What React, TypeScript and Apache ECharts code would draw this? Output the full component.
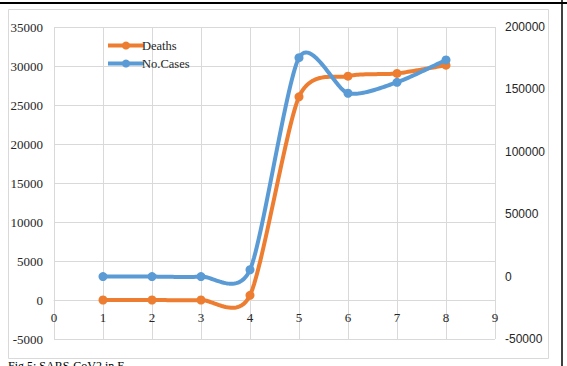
import React, { useEffect, useRef } from "react";
import * as echarts from "echarts";

const xValues = [1, 2, 3, 4, 5, 6, 7, 8];
const deaths = [0, 0, 0, 600, 26050, 28700, 29050, 30100];
const cases = [0, 0, 0, 5500, 175400, 146900, 155700, 173600];
const seriesNames = ["Deaths", "No.Cases"];
const colors = ["#ED7D31", "#5B9BD5"];
const caption = "Fig 5: SARS-CoV2 in E";

// Excel-like smoothed curve (cardinal spline) sampled in pixel space
function smoothPoints(pts: number[][], k: number): number[][] {
  const out: number[][] = [];
  const n = pts.length;
  for (let i = 0; i < n - 1; i++) {
    const p0 = pts[Math.max(0, i - 1)];
    const p1 = pts[i];
    const p2 = pts[i + 1];
    const p3 = pts[Math.min(n - 1, i + 2)];
    const c1 = [p1[0] + (p2[0] - p0[0]) * k, p1[1] + (p2[1] - p0[1]) * k];
    const c2 = [p2[0] - (p3[0] - p1[0]) * k, p2[1] - (p3[1] - p1[1]) * k];
    const steps = 30;
    for (let s = 0; s <= steps; s++) {
      if (i > 0 && s === 0) continue;
      const t = s / steps;
      const a = (1 - t) * (1 - t) * (1 - t);
      const b = 3 * (1 - t) * (1 - t) * t;
      const c = 3 * (1 - t) * t * t;
      const d = t * t * t;
      out.push([
        a * p1[0] + b * c1[0] + c * c2[0] + d * p2[0],
        a * p1[1] + b * c1[1] + c * c2[1] + d * p2[1],
      ]);
    }
  }
  return out;
}

function curveSeries(values: number[], yAxisIndex: number, color: string, z: number) {
  return {
    type: "custom",
    coordinateSystem: "cartesian2d",
    xAxisIndex: 0,
    yAxisIndex,
    z,
    silent: true,
    data: xValues.map((x, i) => [x, values[i]]),
    encode: { x: 0, y: 1 },
    renderItem: (params: any, api: any) => {
      if (params.dataIndex !== 0) return null;
      const pts = xValues.map((x, i) => api.coord([x, values[i]]));
      return {
        type: "polyline",
        shape: { points: smoothPoints(pts, 1 / 8) },
        style: { stroke: color, lineWidth: 4, fill: "none", lineJoin: "round", lineCap: "round" },
      };
    },
  };
}

export default function App() {
  const ref = useRef<HTMLDivElement>(null);
  useEffect(() => {
    document.body.style.margin = "0";
    const chart = echarts.init(ref.current!, null, { renderer: "svg" });
    const grid = "#d9d9d9";
    const plain = (v: number) => String(v);
    chart.setOption({
      animation: false,
      backgroundColor: "#ffffff",
      grid: { left: 54, right: 72, top: 27, bottom: 27, containLabel: false },
      legend: {
        orient: "vertical",
        left: 101,
        top: 34,
        itemWidth: 36,
        itemHeight: 10,
        itemGap: 5,
        data: seriesNames.map((name, i) => ({
          name,
          lineStyle: { width: 4, opacity: 1, color: colors[i] },
          itemStyle: { color: colors[i] },
        })),
        textStyle: { fontFamily: "Liberation Serif", fontSize: 12.5, color: "#262626", padding: [0, 0, 0, -7] },
      },
      xAxis: {
        type: "value",
        min: 0,
        max: 9,
        interval: 1,
        position: "bottom",
        offset: -39,
        axisLine: { onZero: false, lineStyle: { color: grid, width: 1 } },
        axisTick: { show: false },
        splitLine: { show: true, lineStyle: { color: grid, width: 1 } },
        axisLabel: { fontFamily: "Liberation Serif", fontSize: 13, color: "#262626", margin: 11, formatter: plain },
      },
      yAxis: [
        {
          type: "value",
          min: -5000,
          max: 35000,
          interval: 5000,
          axisLine: { show: false, onZero: false },
          axisTick: { show: false },
          splitLine: { show: true, lineStyle: { color: grid, width: 1 } },
          axisLabel: { fontFamily: "Liberation Serif", fontSize: 13, color: "#262626", margin: 11, formatter: plain },
        },
        {
          type: "value",
          min: -50000,
          max: 200000,
          interval: 50000,
          axisLine: { show: false, onZero: false },
          axisTick: { show: false },
          splitLine: { show: false },
          axisLabel: { fontFamily: "Liberation Sans", fontSize: 12, color: "#262626", margin: 10, formatter: plain },
        },
      ],
      series: [
        curveSeries(deaths, 0, colors[0], 2),
        {
          name: seriesNames[0],
          type: "line",
          yAxisIndex: 0,
          z: 3,
          data: xValues.map((x, i) => [x, deaths[i]]),
          symbol: "circle",
          symbolSize: 9,
          lineStyle: { width: 4, color: colors[0], opacity: 0 },
          itemStyle: { color: colors[0] },
        },
        curveSeries(cases, 1, colors[1], 4),
        {
          name: seriesNames[1],
          type: "line",
          yAxisIndex: 1,
          z: 5,
          data: xValues.map((x, i) => [x, cases[i]]),
          symbol: "circle",
          symbolSize: 9,
          lineStyle: { width: 4, color: colors[1], opacity: 0 },
          itemStyle: { color: colors[1] },
        },
      ],
      graphic: [
        { type: "rect", shape: { x: 8.5, y: 9.5, width: 540, height: 349 }, style: { fill: "none", stroke: "#d9d9d9", lineWidth: 1 }, silent: true },
        { type: "line", shape: { x1: 0, y1: 3, x2: 567, y2: 3 }, style: { stroke: "#000", lineWidth: 2 }, silent: true },
        { type: "line", shape: { x1: 562, y1: 0, x2: 562, y2: 366 }, style: { stroke: "#000", lineWidth: 1.5 }, silent: true },
        {
          type: "text",
          left: 8,
          top: 360,
          style: { text: caption, font: "12px 'Liberation Serif'", fill: "#000" },
          silent: true,
        },
      ],
    });
    return () => chart.dispose();
  }, []);
  return <div ref={ref} style={{ width: 567, height: 366 }} />;
}
